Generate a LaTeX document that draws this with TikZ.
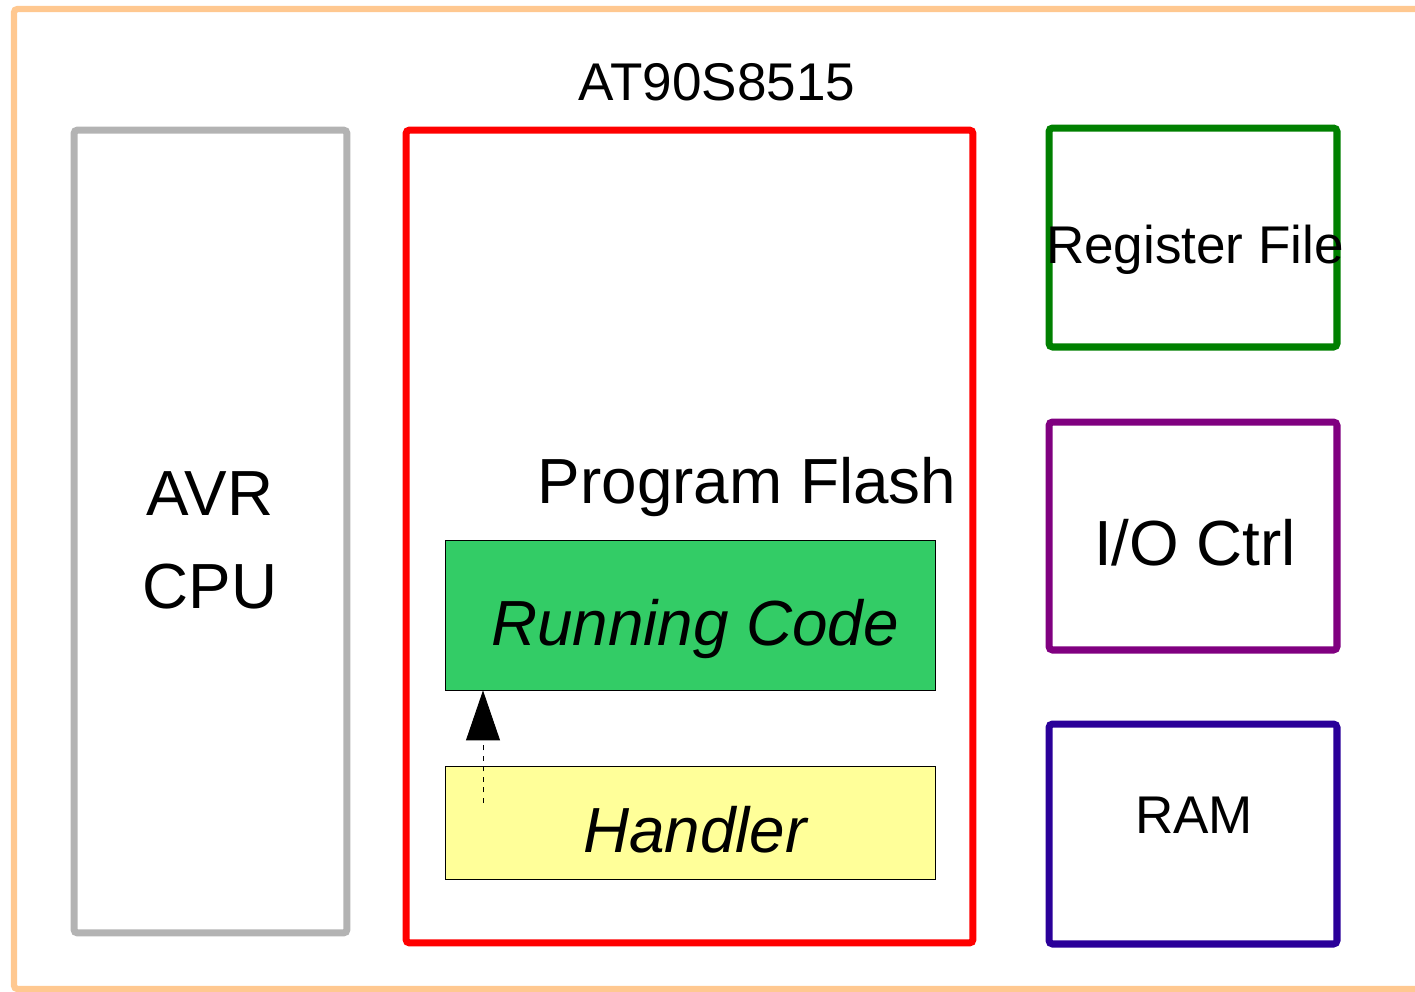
\documentclass[tikz,border=0pt]{standalone}
\usepackage{fontspec}
\setmainfont{Liberation Sans}
\usepackage{tikz}
\usetikzlibrary{arrows.meta}

\definecolor{peach}{HTML}{FFC890}
\definecolor{cpugray}{HTML}{B3B3B3}
\definecolor{regsgreen}{HTML}{008000}
\definecolor{iopurple}{HTML}{800080}
\definecolor{ramblue}{HTML}{2A0099}
\definecolor{runfill}{HTML}{33CC66}
\definecolor{handfill}{HTML}{FFFF99}

\tikzset{
  blockbox/.style={draw, line width=4pt, rounded corners=2pt, inner sep=0pt},
  codebox/.style={draw=black, line width=0.5pt, inner sep=0pt},
  bigtxt/.style={font=\fontsize{36.3}{43}\selectfont, anchor=base},
  midtxt/.style={font=\fontsize{30.2}{36}\selectfont, anchor=base}
}

\begin{document}
\begin{tikzpicture}[x=0.02cm, y=-0.02cm]
\useasboundingbox (0,0) rectangle (1415,991);

% Outer frame
\begin{scope}
\clip (0,0) rectangle (1415,991);
\draw[peach, line width=3.6pt, rounded corners=2pt] (14,9) rectangle (1440,989);
\end{scope}

% Chip name
\node[midtxt] (chip) at (717,100) {AT90S8515};

% CPU
\node[blockbox, cpugray, minimum width=5.46cm, minimum height=16.06cm] (cpu) at (210.5,531.5) {};
\node[bigtxt] (cpuA) at (210,515) {AVR};
\node[bigtxt] (cpuB) at (210,608) {CPU};

% Program flash
\node[blockbox, red, minimum width=11.34cm, minimum height=16.26cm] (flash) at (689.5,536.5) {};
\node[bigtxt] (flashlbl) at (747,503) {Program Flash};

\node[codebox, fill=runfill, minimum width=9.8cm, minimum height=3cm] (run) at (690,615) {};
\node[bigtxt, font=\fontsize{36.3}{43}\selectfont\itshape] (runlbl) at (695,645) {Running Code};

\node[codebox, fill=handfill, minimum width=9.8cm, minimum height=2.26cm] (hand) at (690,822.5) {};
\node[bigtxt, font=\fontsize{36.3}{43}\selectfont\itshape] (handlbl) at (695,852) {Handler};

% Jump from handler back to the running code
\coordinate (ret) at (483,803);
\draw[dashed, line width=0.5pt, -{Triangle[length=1cm, width=0.68cm]}] (ret) -- (ret |- run.south);

% Peripherals
\node[blockbox, regsgreen, minimum width=5.76cm, minimum height=4.38cm] (regs) at (1193,237.5) {};
\node[midtxt] (regslbl) at (1195,263) {Register File};

\node[blockbox, iopurple, minimum width=5.76cm, minimum height=4.56cm] (io) at (1193,536) {};
\node[bigtxt] (iolbl) at (1195,565) {I/O Ctrl};

\node[blockbox, ramblue, minimum width=5.76cm, minimum height=4.4cm] (ram) at (1193,834) {};
\node[midtxt] (ramlbl) at (1194,833) {RAM};
\end{tikzpicture}
\end{document}
